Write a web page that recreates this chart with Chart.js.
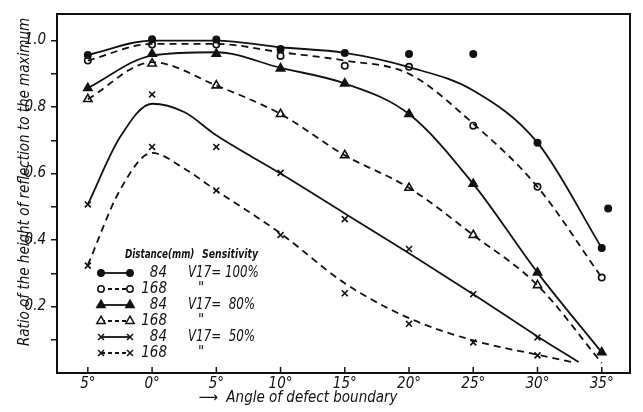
<!DOCTYPE html>
<html>
<head>
<meta charset="utf-8">
<script src="https://cdn.jsdelivr.net/npm/chart.js@4.4.1/dist/chart.umd.min.js"></script>
<style>
  body { margin: 0; background: #fff; }
  canvas { display: block; }
</style>
</head>
<body>
<canvas id="chart" width="643" height="412"></canvas>
<script>
  // Angles of the measured points (deg)
  var angles = [-5, 0, 5, 10, 15, 20, 25, 30, 35];

  // Measured points, one list per series (null = no marker)
  var pts84_100 = [0.957, 1.004, 1.003, 0.975, 0.963, 0.96, 0.96, 0.693, 0.376];
  var pts168_100 = [0.94, 0.988, 0.988, 0.954, 0.924, 0.921, 0.744, 0.56, 0.287];
  var pts84_80 = [0.857, 0.96, 0.96, 0.916, 0.871, 0.779, 0.569, 0.302, 0.062];
  var pts168_80 = [0.824, 0.931, 0.865, 0.779, 0.655, 0.557, 0.415, 0.264, null];
  var pts84_50 = [0.507, 0.838, 0.68, 0.602, 0.463, 0.373, 0.237, 0.107, null];
  var pts168_50 = [0.323, 0.68, 0.549, 0.415, 0.24, 0.148, 0.092, 0.053, null];
  var extra84_100 = { x: 35.5, y: 0.495 }; // stray point right of the 35 deg column

  // Drawn (fitted) curves
  var curveX = [-5, 0, 5, 10, 15, 20, 25, 30, 35];
  var c84_100 = [0.957, 1.0, 1.0, 0.98, 0.963, 0.92, 0.85, 0.693, 0.376];
  var c168_100 = [0.94, 0.99, 0.99, 0.965, 0.94, 0.9, 0.75, 0.56, 0.287];
  var c84_80 = [0.857, 0.955, 0.965, 0.918, 0.871, 0.779, 0.569, 0.302, 0.062];
  var c168_80 = [0.824, 0.935, 0.865, 0.779, 0.655, 0.557, 0.415, 0.264, 0.03];
  var c84_50X = [-5, -2.5, 0, 2.5, 5, 10, 15, 20, 25, 30, 33.2];
  var c84_50 = [0.507, 0.709, 0.81, 0.785, 0.715, 0.6, 0.48, 0.36, 0.237, 0.11, 0.033];
  var c168_50X = [-5, -2.5, 0, 2.5, 5, 10, 15, 20, 25, 30, 32.7];
  var c168_50 = [0.325, 0.55, 0.662, 0.615, 0.549, 0.42, 0.27, 0.165, 0.098, 0.055, 0.033];

  // Legend rows
  var distances = ['84', '168', '84', '168', '84', '168'];
  var sensitivity = ['V17= 100%', '"', 'V17=  80%', '"', 'V17=  50%', '"'];

  var FONT = "'Liberation Sans Narrow', 'DejaVu Sans Condensed', 'DejaVu Sans', sans-serif";
  var INK = '#111';
  var DASH = [7, 5];

  function toXY(xs, ys) {
    return xs.map((x, i) => ({ x: x, y: ys[i] })).filter(p => p.y !== null);
  }

  // series styles: marker, filled?, dashed?
  var styles = [
    { style: 'circle', r: 3.2, fill: true, dash: false },
    { style: 'circle', r: 3.2, fill: false, dash: true },
    { style: 'triangle', r: 4.8, fill: true, dash: false },
    { style: 'triangle', r: 4.8, fill: false, dash: true },
    { style: 'crossRot', r: 4.2, fill: false, dash: false },
    { style: 'crossRot', r: 4.2, fill: false, dash: true }
  ];

  var curves = [
    toXY(curveX, c84_100), toXY(curveX, c168_100), toXY(curveX, c84_80),
    toXY(curveX, c168_80), toXY(c84_50X, c84_50), toXY(c168_50X, c168_50)
  ];
  var points = [
    toXY(angles, pts84_100).concat([extra84_100]), toXY(angles, pts168_100), toXY(angles, pts84_80),
    toXY(angles, pts168_80), toXY(angles, pts84_50), toXY(angles, pts168_50)
  ];

  var datasets = [];
  curves.forEach((c, i) => {
    datasets.push({
      type: 'line',
      data: c,
      borderColor: INK,
      borderWidth: 1.8,
      borderDash: styles[i].dash ? DASH : [],
      pointRadius: 0,
      fill: false,
      cubicInterpolationMode: 'monotone'
    });
  });
  points.forEach((p, i) => {
    datasets.push({
      type: 'scatter',
      data: p,
      showLine: false,
      pointStyle: styles[i].style,
      pointRadius: styles[i].r,
      pointBorderWidth: 1.6,
      pointBorderColor: INK,
      pointBackgroundColor: styles[i].fill ? INK : '#fff'
    });
  });

  function drawMarker(ctx, st, x, y) {
    ctx.save();
    ctx.setLineDash([]);
    ctx.strokeStyle = INK;
    ctx.fillStyle = st.fill ? INK : '#fff';
    ctx.lineWidth = 1.5;
    Chart.helpers.drawPoint(ctx, { pointStyle: st.style, radius: st.r, borderWidth: 1.5, rotation: 0 }, x, y);
    ctx.restore();
  }

  // text squeezed horizontally, the figure's lettering is narrow
  function narrowText(ctx, text, x, y, sx) {
    ctx.save();
    ctx.translate(x, y);
    ctx.scale(sx, 1);
    ctx.fillText(text, 0, 0);
    ctx.restore();
  }

  // Frame, inward x ticks, axis titles and the legend table
  var decorations = {
    id: 'decorations',
    afterDraw(chart) {
      var ctx = chart.ctx;
      var a = chart.chartArea;
      var xs = chart.scales.x;
      ctx.save();
      ctx.strokeStyle = INK;
      ctx.lineWidth = 2;
      ctx.strokeRect(a.left, a.top, a.right - a.left, a.bottom - a.top);

      ctx.lineWidth = 1.5;
      angles.forEach(v => {
        var px = xs.getPixelForValue(v);
        ctx.beginPath();
        ctx.moveTo(px, a.bottom);
        ctx.lineTo(px, a.bottom - 6);
        ctx.stroke();
      });

      ctx.fillStyle = INK;
      ctx.font = 'italic 15px ' + FONT;
      ctx.textBaseline = 'middle';
      ctx.textAlign = 'center';
      ctx.fillText('\u27F6  Angle of defect boundary', 298, 398);

      ctx.save();
      ctx.translate(25, 182);
      ctx.rotate(-Math.PI / 2);
      ctx.fillText('Ratio of the height of reflection to the maximum', 0, 0);
      ctx.restore();

      // legend
      ctx.font = 'italic bold 13px ' + FONT;
      ctx.textAlign = 'left';
      narrowText(ctx, 'Distance(mm)', 125, 255, 0.75);
      narrowText(ctx, 'Sensitivity', 202, 255, 0.8);
      ctx.font = 'italic 15px ' + FONT;
      styles.forEach((st, i) => {
        var y = 273 + i * 16;
        ctx.save();
        ctx.lineWidth = 1.8;
        ctx.setLineDash(st.dash ? [4, 3] : []);
        ctx.beginPath();
        ctx.moveTo(101, y);
        ctx.lineTo(130, y);
        ctx.stroke();
        ctx.restore();
        drawMarker(ctx, st, 101, y);
        drawMarker(ctx, st, 130, y);
        ctx.textAlign = 'right';
        ctx.fillText(distances[i], 167, y);
        ctx.textAlign = 'left';
        if (sensitivity[i] === '"') ctx.fillText('"', 198, y);
        else narrowText(ctx, sensitivity[i], 188, y, 0.88);
      });
      ctx.restore();
    }
  };

  var ctx = document.getElementById('chart').getContext('2d');
  var chart = new Chart(ctx, {
    data: { datasets: datasets },
    options: {
      responsive: false,
      animation: false,
      devicePixelRatio: 1,
      layout: { padding: { left: 0, right: 13, top: 10, bottom: 0 } },
      plugins: { legend: { display: false }, tooltip: { enabled: false } },
      scales: {
        x: {
          type: 'linear',
          min: -7.4,
          max: 37.2,
          afterBuildTicks: s => { s.ticks = angles.map(v => ({ value: v })); },
          afterFit: s => { s.height = 39; },
          grid: { display: false, tickLength: 0 },
          border: { display: false },
          ticks: {
            color: INK,
            padding: 2,
            font: { family: FONT, size: 15, style: 'italic' },
            callback: v => Math.abs(v) + '\u00B0'
          }
        },
        y: {
          type: 'linear',
          min: 0,
          max: 1.08,
          afterBuildTicks: s => {
            var t = [];
            for (var k = 1; k <= 10; k++) t.push({ value: k / 10 });
            s.ticks = t;
          },
          afterFit: s => { s.width = 57; },
          grid: { drawOnChartArea: false, drawTicks: true, tickLength: 6, color: INK, lineWidth: 1.5 },
          border: { display: false },
          ticks: {
            color: INK,
            padding: 5,
            font: { family: FONT, size: 15, style: 'italic' },
            callback: v => {
              var k = Math.round(v * 10);
              return k % 2 === 0 ? (k / 10).toFixed(1) : '';
            }
          }
        }
      }
    },
    plugins: [decorations]
  });
</script>
</body>
</html>
